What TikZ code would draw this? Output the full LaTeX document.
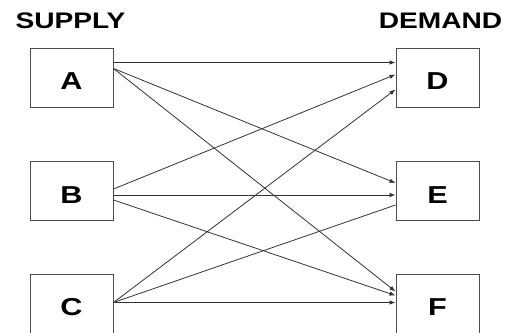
\documentclass[tikz,border=0pt]{standalone}
\usepackage{fontspec}
\usepackage{graphicx}
\setmainfont{Liberation Sans}
\usetikzlibrary{arrows.meta}
\newcommand\widetext[1]{\scalebox{1.25}[1]{#1}}
\begin{document}
\begin{tikzpicture}[x=1pt,y=-1pt,
  heading/.style={font=\fontsize{22.5}{22.5}\selectfont\bfseries, anchor=base, inner sep=0pt},
  site/.style={draw=black!70, line width=1pt, minimum width=83pt, minimum height=59pt,
    inner sep=0pt, font=\fontsize{24.5}{24.5}\selectfont\bfseries, text height=24pt, text depth=0pt},
  flow/.style={draw=black!80, line width=0.8pt, -{Latex[length=6pt,width=4.5pt]}},
  link/.style={draw=black!80, line width=0.8pt}]
\useasboundingbox (0,0) rectangle (508,332);

% column headings
\node[heading] (supply) at (70.5,28) {\widetext{SUPPLY}};
\node[heading] (demand) at (440.5,28) {\widetext{DEMAND}};

% supply sites
\node[site] (A) at (71.5,77.5)  {\widetext{A}};
\node[site] (B) at (71.5,191)   {\widetext{B}};
\node[site] (C) at (71.5,303.5) {\widetext{C}};

% demand sites
\node[site] (D) at (437.5,77.5)  {\widetext{D}};
\node[site] (E) at (437.5,191)   {\widetext{E}};
\node[site] (F) at (437.5,303.5) {\widetext{F}};

% shipments from A
\draw[flow] ([yshift=-15pt]A.north east) -- ([yshift=-15pt]D.north west);
\draw[flow] ([yshift=-21pt]A.north east) -- ([yshift=-22pt]E.north west);
\draw[flow] ([yshift=-21pt]A.north east) -- ([yshift=-18pt]F.north west);

% shipments from B
\draw[flow] ([yshift=-28pt]B.north east) -- ([yshift=-27pt]D.north west);
\draw[flow] ([yshift=-34pt]B.north east) -- ([yshift=-34pt]E.north west);
\draw[flow] ([yshift=-39pt]B.north east) -- ([yshift=-22pt]F.north west);

% shipments from C
\draw[flow] ([yshift=-29pt]C.north east) -- ([yshift=-42pt]D.north west);
\draw[link] ([yshift=-29pt]C.north east) -- ([yshift=-44pt]E.north west);
\draw[flow] ([yshift=-29pt]C.north east) -- ([yshift=-29pt]F.north west);
\end{tikzpicture}
\end{document}
